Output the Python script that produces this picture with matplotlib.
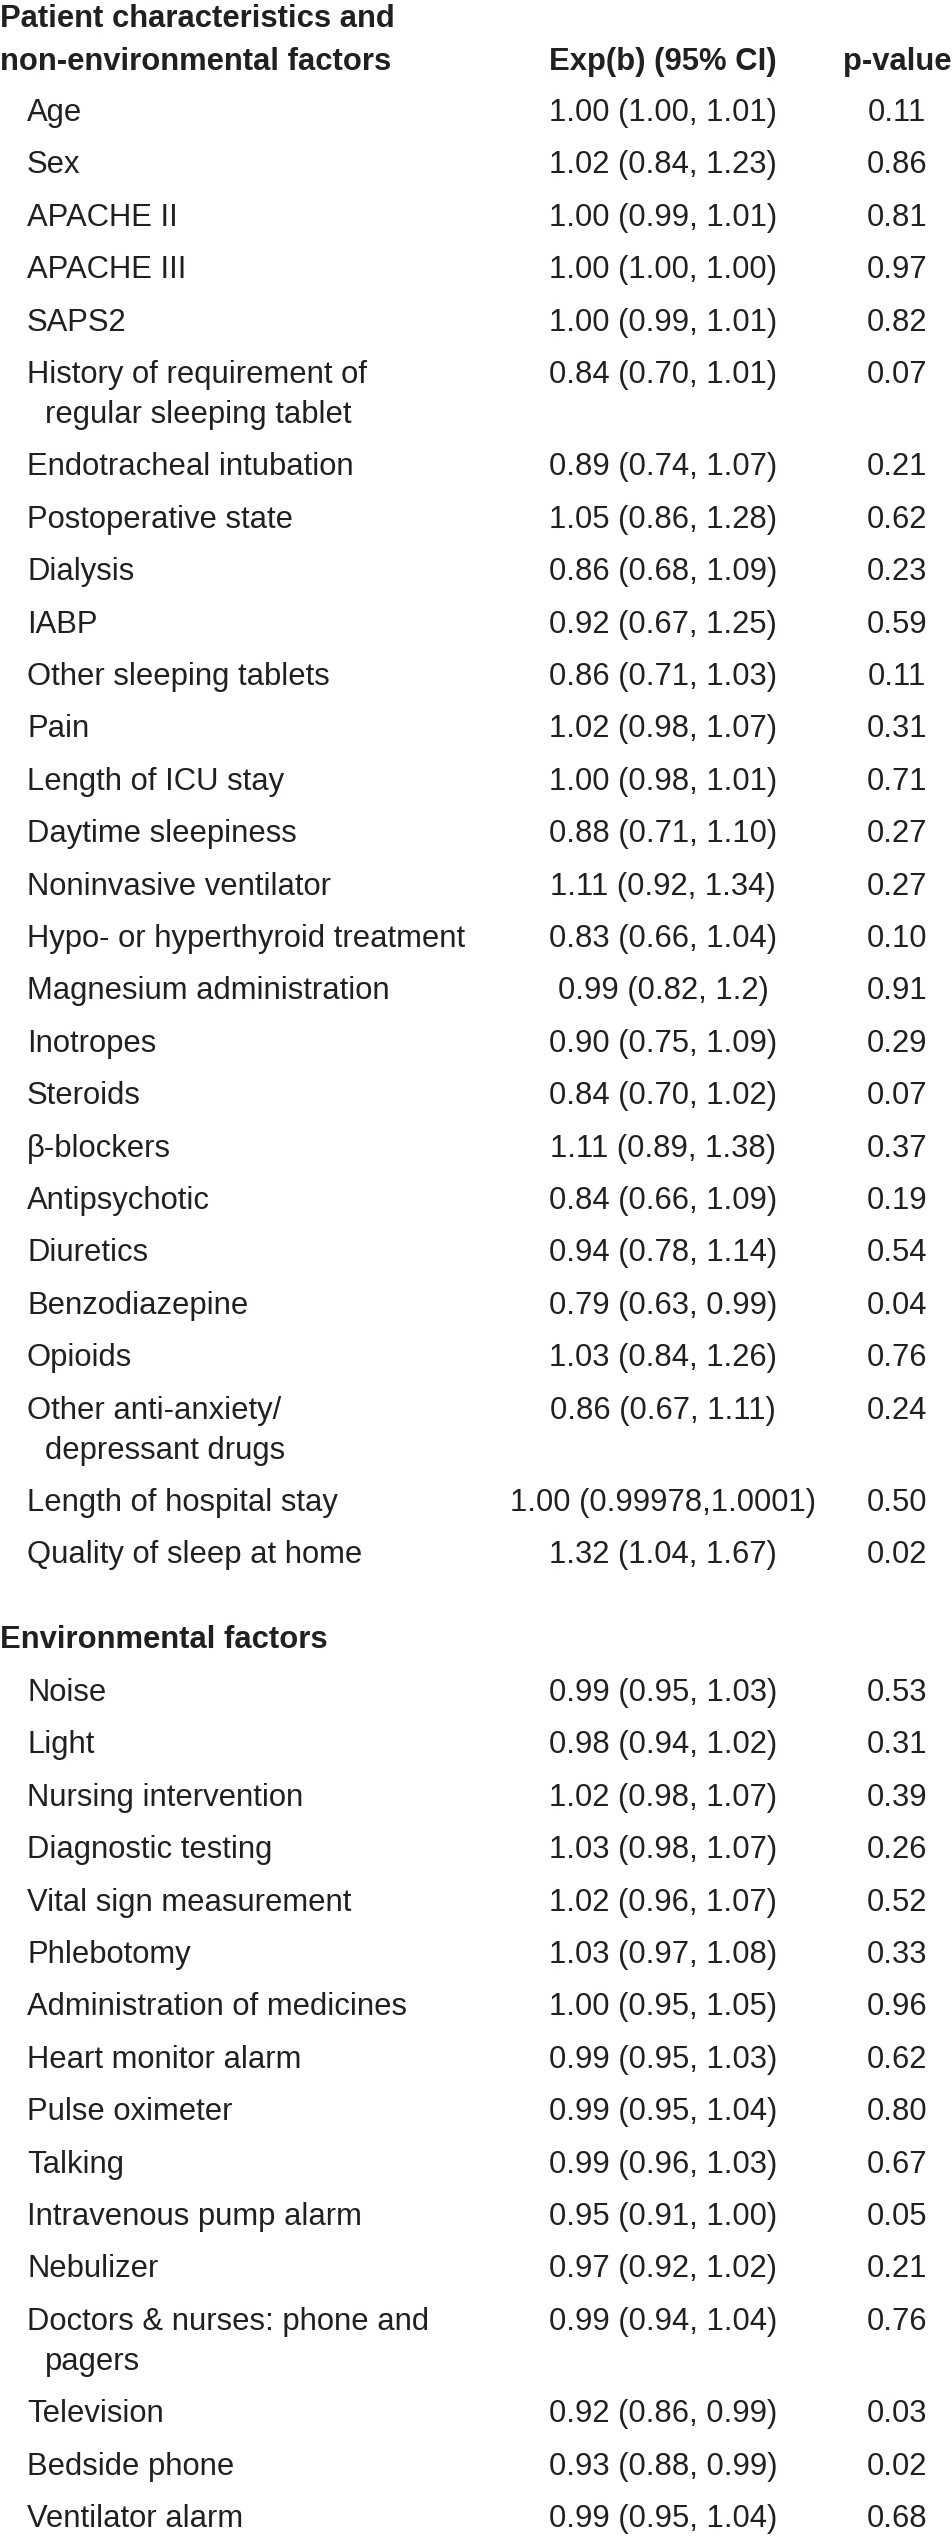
import matplotlib.pyplot as plt
from matplotlib import font_manager

# table content
patient_labels = [
    "Age", "Sex", "APACHE II", "APACHE III", "SAPS2",
    "History of requirement of\nregular sleeping tablet",
    "Endotracheal intubation", "Postoperative state", "Dialysis", "IABP",
    "Other sleeping tablets", "Pain", "Length of ICU stay",
    "Daytime sleepiness", "Noninvasive ventilator",
    "Hypo- or hyperthyroid treatment", "Magnesium administration",
    "Inotropes", "Steroids", "\u03b2-blockers", "Antipsychotic",
    "Diuretics", "Benzodiazepine", "Opioids",
    "Other anti-anxiety/\ndepressant drugs",
    "Length of hospital stay", "Quality of sleep at home",
]
patient_exp = [
    "1.00 (1.00, 1.01)", "1.02 (0.84, 1.23)", "1.00 (0.99, 1.01)",
    "1.00 (1.00, 1.00)", "1.00 (0.99, 1.01)", "0.84 (0.70, 1.01)",
    "0.89 (0.74, 1.07)", "1.05 (0.86, 1.28)", "0.86 (0.68, 1.09)",
    "0.92 (0.67, 1.25)", "0.86 (0.71, 1.03)", "1.02 (0.98, 1.07)",
    "1.00 (0.98, 1.01)", "0.88 (0.71, 1.10)", "1.11 (0.92, 1.34)",
    "0.83 (0.66, 1.04)", "0.99 (0.82, 1.2)", "0.90 (0.75, 1.09)",
    "0.84 (0.70, 1.02)", "1.11 (0.89, 1.38)", "0.84 (0.66, 1.09)",
    "0.94 (0.78, 1.14)", "0.79 (0.63, 0.99)", "1.03 (0.84, 1.26)",
    "0.86 (0.67, 1.11)", "1.00 (0.99978,1.0001)", "1.32 (1.04, 1.67)",
]
patient_p = [
    "0.11", "0.86", "0.81", "0.97", "0.82", "0.07", "0.21", "0.62", "0.23",
    "0.59", "0.11", "0.31", "0.71", "0.27", "0.27", "0.10", "0.91", "0.29",
    "0.07", "0.37", "0.19", "0.54", "0.04", "0.76", "0.24", "0.50", "0.02",
]

env_labels = [
    "Noise", "Light", "Nursing intervention", "Diagnostic testing",
    "Vital sign measurement", "Phlebotomy", "Administration of medicines",
    "Heart monitor alarm", "Pulse oximeter", "Talking",
    "Intravenous pump alarm", "Nebulizer",
    "Doctors & nurses: phone and\npagers",
    "Television", "Bedside phone", "Ventilator alarm",
]
env_exp = [
    "0.99 (0.95, 1.03)", "0.98 (0.94, 1.02)", "1.02 (0.98, 1.07)",
    "1.03 (0.98, 1.07)", "1.02 (0.96, 1.07)", "1.03 (0.97, 1.08)",
    "1.00 (0.95, 1.05)", "0.99 (0.95, 1.03)", "0.99 (0.95, 1.04)",
    "0.99 (0.96, 1.03)", "0.95 (0.91, 1.00)", "0.97 (0.92, 1.02)",
    "0.99 (0.94, 1.04)", "0.92 (0.86, 0.99)", "0.93 (0.88, 0.99)",
    "0.99 (0.95, 1.04)",
]
env_p = [
    "0.53", "0.31", "0.39", "0.26", "0.52", "0.33", "0.96", "0.62", "0.80",
    "0.67", "0.05", "0.21", "0.76", "0.03", "0.02", "0.68",
]

installed = {f.name for f in font_manager.fontManager.ttflist}
fam = "Liberation Sans Narrow" if "Liberation Sans Narrow" in installed else "Liberation Sans"
plt.rcParams['font.family'] = [fam, 'DejaVu Sans']

W, H = 952, 2536
fig = plt.figure(figsize=(W / 100, H / 100), dpi=100)
ax = fig.add_axes([0, 0, 1, 1])
ax.set_xlim(0, W)
ax.set_ylim(H, 0)
ax.axis('off')

col = '#231f20'
fs = 22.3
x_lab, x_exp, x_p = 27, 663, 897
step, wrap = 52.4, 40


def put_rows(y, labels, exps, ps):
    for lab, e, p in zip(labels, exps, ps):
        lines = lab.split('\n')
        ax.text(x_lab, y, lines[0], fontsize=fs, color=col, va='center')
        ax.text(x_exp, y, e, fontsize=fs, color=col, va='center', ha='center')
        ax.text(x_p, y, p, fontsize=fs, color=col, va='center', ha='center')
        for extra in lines[1:]:
            y += wrap
            ax.text(x_lab + 18, y, extra, fontsize=fs, color=col, va='center')
        y += step
    return y


# header
ax.text(0, 19, "Patient characteristics and", fontsize=fs, color=col,
        fontweight='bold', va='center')
ax.text(0, 62, "non-environmental factors", fontsize=fs, color=col,
        fontweight='bold', va='center')
ax.text(x_exp, 62, "Exp(b) (95% CI)", fontsize=fs, color=col,
        fontweight='bold', va='center', ha='center')
ax.text(x_p, 62, "p-value", fontsize=fs, color=col,
        fontweight='bold', va='center', ha='center')

put_rows(113, patient_labels, patient_exp, patient_p)

ax.text(0, 1640, "Environmental factors", fontsize=fs, color=col,
        fontweight='bold', va='center')
put_rows(1693, env_labels, env_exp, env_p)

fig.savefig('out.png', dpi=100, facecolor='white')
